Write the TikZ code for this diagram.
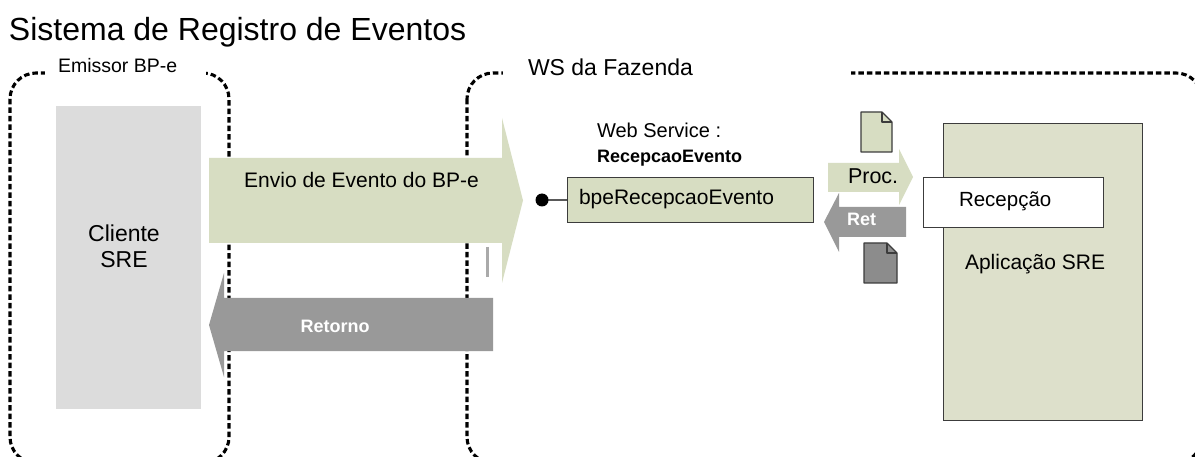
\documentclass[tikz,border=0pt]{standalone}
\usepackage{fontspec}
\setmainfont{Liberation Sans}
\definecolor{arrgreen}{RGB}{215,221,194}
\definecolor{appgreen}{RGB}{221,224,203}
\definecolor{cligray}{RGB}{220,220,220}
\definecolor{arrgray}{RGB}{153,153,153}
\definecolor{docgray}{RGB}{140,140,140}
\definecolor{bargray}{RGB}{170,170,170}
\definecolor{edge}{RGB}{60,60,60}
\newcommand{\fs}[1]{\fontsize{#1}{#1}\selectfont}
\begin{document}
\begin{tikzpicture}[x=1pt,y=-1pt,
  txt/.style={inner sep=0pt, outer sep=0pt, text=black},
  dashbox/.style={draw=black, line width=3.1pt, dash pattern=on 5.5pt off 3pt, rounded corners=26pt},
  blockgreen/.style={fill=arrgreen, draw=none},
  blockgray/.style={fill=arrgray, draw=none},
  panel/.style={draw=edge, line width=1.2pt, inner sep=0pt, anchor=north west},
  doc/.style={draw=edge, line width=1.1pt, line join=round},
]
\useasboundingbox (0,0) rectangle (1195,457);
\fill[white] (0,0) rectangle (1195,457);

% dashed boundaries
\draw[dashbox] (10,73) rectangle (229,463);
\fill[white] (45,67) rectangle (206,80);
\draw[dashbox] (467,73) rectangle (1202,463);
\fill[white] (503,67) rectangle (851,80);

% title and labels
\node[txt, anchor=base west, font=\fs{32}] (title) at (9,41) {Sistema de Registro de Eventos};
\node[txt, anchor=base west, font=\fs{19.5}] (emissor) at (58,73) {Emissor BP-e};
\node[txt, anchor=base west, font=\fs{23}] (ws) at (528,76) {WS da Fazenda};

% client
\node[panel, draw=none, fill=cligray, minimum width=145pt, minimum height=303pt] (cli) at (55,105) {};
\node[txt, anchor=base, font=\fs{23}] (cli1) at (124,242) {Cliente};
\node[txt, anchor=base, font=\fs{23}] (cli2) at (124,268) {SRE};

% big arrows
\path[blockgreen] (209,158) -- (502,158) -- (502,118) -- (523,200.5) -- (502,283) -- (502,243) -- (209,243) -- cycle;
\node[txt, anchor=base, font=\fs{21}] (envio) at (361.5,188) {Envio de Evento do BP-e};
\path[blockgray] (493,298) -- (224,298) -- (224,273) -- (209,325) -- (224,377) -- (224,351) -- (493,351) -- cycle;
\node[txt, anchor=base, font=\fs{18}\bfseries, text=white] (retorno) at (335,333) {Retorno};
\draw[bargray, line width=3pt] (487,247) -- (487,277);

% web service
\node[txt, anchor=base west, font=\fs{20}] (wsl) at (597,138) {Web Service :};
\node[txt, anchor=base west, font=\fs{18}\bfseries] (wsn) at (597,163) {RecepcaoEvento};
\node[panel, fill=arrgreen, minimum width=246pt, minimum height=45pt] (bpe) at (567,177) {};
\node[txt, anchor=base west, font=\fs{21}] (bpet) at (579,205) {bpeRecepcaoEvento};
\coordinate (dot) at (542,200);
\draw[line width=1.2pt] (dot) -- (bpe.west);
\fill[black] (dot) circle (6.5pt);

% small arrows and documents
\path[blockgreen] (828,163) -- (899,163) -- (899,149) -- (913,177) -- (899,205) -- (899,192) -- (828,192) -- cycle;
\node[txt, anchor=base west, font=\fs{21.5}] (proc) at (848,184) {Proc.};
\path[blockgray] (906,207) -- (839,207) -- (839,193) -- (824,222) -- (839,252) -- (839,237) -- (906,237) -- cycle;
\node[txt, anchor=base west, font=\fs{18}\bfseries, text=white] (ret) at (847,226) {Ret};
\draw[doc, fill=arrgreen] (861,112) -- (882,112) -- (892,122) -- (892,152) -- (861,152) -- cycle;
\draw[doc] (882,112) -- (882,122) -- (892,122);
\draw[doc, fill=docgray] (864,243) -- (887,243) -- (897,253) -- (897,283) -- (864,283) -- cycle;
\draw[doc] (887,243) -- (887,253) -- (897,253);

% application
\node[panel, fill=appgreen, minimum width=199pt, minimum height=297pt] (app) at (943,123) {};
\node[panel, fill=white, minimum width=180pt, minimum height=50pt] (rec) at (923,177) {};
\node[txt, anchor=base west, font=\fs{20.5}] (rect) at (959,207) {Recepção};
\node[txt, anchor=base west, font=\fs{21}] (appt) at (965,270) {Aplicação SRE};
\end{tikzpicture}
\end{document}
